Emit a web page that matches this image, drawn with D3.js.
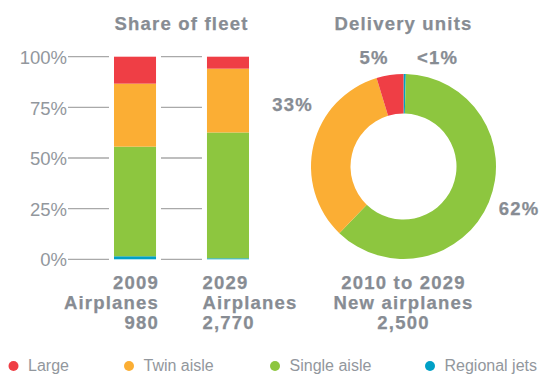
<!DOCTYPE html>
<html>
<head>
<meta charset="utf-8">
<script src="https://cdn.jsdelivr.net/npm/d3@7/dist/d3.min.js"></script>
<style>
  html, body { margin: 0; padding: 0; background: #ffffff; }
  svg { display: block; font-family: "Liberation Sans", Arial, sans-serif; }
  .bold { font-weight: bold; fill: #878c93; letter-spacing: 1.2px; font-size: 18.5px; stroke: #878c93; stroke-width: 0.25px; }
  .tick text { fill: #92979d; font-size: 18.5px; }
  .legend text { fill: #92979d; font-size: 16px; }
</style>
</head>
<body>
<svg id="chart" width="541" height="374"></svg>
<script>
// Aircraft segments, listed from largest to smallest
const segments = ["Large", "Twin aisle", "Single aisle", "Regional jets"];
const segmentColors = ["#ef3e45", "#fbae34", "#8dc63f", "#00a0c6"];

// Share of fleet (%) per segment, same order as `segments`
const fleetYears = ["2009", "2029"];
const fleetCounts = ["980", "2,770"];
const fleetShare2009 = [13.3, 31.1, 54.1, 1.5];
const fleetShare2029 = [5.9, 31.5, 62.1, 0.5];
const percentTicks = [0, 25, 50, 75, 100];

// Deliveries 2010-2029 (% of units), same order as `segments`
const deliveryShare = [4.7, 33.1, 61.8, 0.4];
const deliveryLabels = ["5%", "33%", "62%", "<1%"];
const deliveryPeriod = "2010 to 2029";
const deliveryTotal = "2,500";

const svg = d3.select("#chart");
const color = d3.scaleOrdinal().domain(segments).range(segmentColors);

// ---------- Stacked bars: share of fleet ----------
const fleetRows = fleetYears.map((year, i) => {
  const shares = i === 0 ? fleetShare2009 : fleetShare2029;
  const row = { year };
  segments.forEach((s, j) => { row[s] = shares[j]; });
  return row;
});

const x = d3.scaleBand().domain(fleetYears).range([114, 249]).paddingInner(0.548);
const y = d3.scaleLinear().domain([0, 100]).range([259.3, 56.7]);

// Horizontal rule segments sit in the gap left of each bar
const grid = svg.append("g");
fleetYears.forEach(year => {
  grid.selectAll(null)
    .data(percentTicks)
    .join("line")
    .attr("x1", x(year) - 46)
    .attr("x2", x(year) - 5)
    .attr("y1", d => y(d))
    .attr("y2", d => y(d))
    .attr("stroke", "#a9a9a9")
    .attr("stroke-width", 1.3);
});

const yAxis = svg.append("g")
  .attr("transform", "translate(67,0)")
  .call(d3.axisLeft(y).tickValues(percentTicks).tickFormat(d => d + "%").tickSize(0).tickPadding(0));
yAxis.select(".domain").remove();
yAxis.selectAll(".tick text")
  .attr("font-family", "Liberation Sans, Arial, sans-serif")
  .attr("dy", "0.36em");

const stackOrder = segments.slice().reverse(); // bottom to top
const stacked = d3.stack().keys(stackOrder)(fleetRows);

svg.append("g")
  .selectAll("g")
  .data(stacked)
  .join("g")
  .attr("fill", d => color(d.key))
  .selectAll("rect")
  .data(d => d)
  .join("rect")
  .attr("x", d => x(d.data.year))
  .attr("width", x.bandwidth())
  .attr("y", d => y(d[1]))
  .attr("height", d => y(d[0]) - y(d[1]));

// Bar captions: first bar right-aligned, second left-aligned
const lineBaselines = [289, 308.5, 329];
fleetYears.forEach((year, i) => {
  const anchor = i === 0 ? "end" : "start";
  const xPos = i === 0 ? x(year) + x.bandwidth() + 3 : x(year) - 4.5;
  const lines = [year, "Airplanes", fleetCounts[i]];
  svg.append("g")
    .selectAll("text")
    .data(lines)
    .join("text")
    .attr("class", "bold")
    .attr("text-anchor", anchor)
    .attr("x", xPos)
    .attr("y", (d, k) => lineBaselines[k])
    .text(d => d);
});

svg.append("text")
  .attr("class", "bold")
  .attr("text-anchor", "middle")
  .attr("x", (x(fleetYears[0]) + x(fleetYears[1]) + x.bandwidth()) / 2)
  .attr("y", 29.5)
  .text("Share of fleet");

// ---------- Donut: delivery units ----------
const cx = 403.5, cy = 166.5;
const outerR = 92.5, innerR = 53;

// Clockwise from 12 o'clock: regional, single aisle, twin aisle, large
const pieOrder = ["Regional jets", "Single aisle", "Twin aisle", "Large"];
const pieData = pieOrder.map(s => ({
  segment: s,
  value: deliveryShare[segments.indexOf(s)],
  label: deliveryLabels[segments.indexOf(s)]
}));

const pie = d3.pie().sort(null).value(d => d.value);
const arc = d3.arc().innerRadius(innerR).outerRadius(outerR);

const donut = svg.append("g").attr("transform", `translate(${cx},${cy})`);
donut.selectAll("path")
  .data(pie(pieData))
  .join("path")
  .attr("d", arc)
  .attr("fill", d => color(d.data.segment));

// Callout placement (degrees clockwise from top, distance from centre)
const callouts = {
  "Large": { angle: -16.1, r: 106.4 },
  "Twin aisle": { angle: -63.4, r: 124.1 },
  "Single aisle": { angle: 112.8, r: 125.3 },
  "Regional jets": { angle: 18.4, r: 107.7 }
};
donut.selectAll("text")
  .data(pieData)
  .join("text")
  .attr("class", "bold")
  .attr("text-anchor", "middle")
  .attr("x", d => callouts[d.segment].r * Math.sin(callouts[d.segment].angle * Math.PI / 180))
  .attr("y", d => -callouts[d.segment].r * Math.cos(callouts[d.segment].angle * Math.PI / 180))
  .text(d => d.label);

svg.append("g")
  .selectAll("text")
  .data([deliveryPeriod, "New airplanes", deliveryTotal])
  .join("text")
  .attr("class", "bold")
  .attr("text-anchor", "middle")
  .attr("x", cx)
  .attr("y", (d, k) => lineBaselines[k])
  .text(d => d);

svg.append("text")
  .attr("class", "bold")
  .attr("text-anchor", "middle")
  .attr("x", cx)
  .attr("y", 29.5)
  .text("Delivery units");

// ---------- Legend ----------
const legendX = [13.5, 129, 275, 430];
const legend = svg.append("g").attr("class", "legend")
  .selectAll("g")
  .data(segments)
  .join("g")
  .attr("transform", (d, i) => `translate(${legendX[i]},366)`);
legend.append("circle").attr("r", 5).attr("fill", d => color(d));
legend.append("text").attr("x", 14.5).attr("y", 4.6).text(d => d);
</script>
</body>
</html>
